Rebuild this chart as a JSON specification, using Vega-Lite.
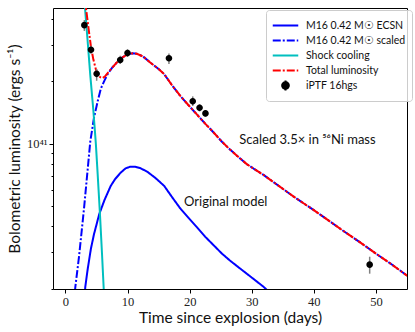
{
  "$schema": "https://vega.github.io/schema/vega-lite/v6.json",
  "width": 354,
  "height": 281,
  "autosize": "none",
  "padding": {"left": 53, "top": 8, "right": 8, "bottom": 43},
  "config": {
    "view": {"stroke": "#000000", "strokeWidth": 1},
    "font": "Lato",
    "axis": {"domain": false, "grid": false, "tickColor": "#000000", "labelColor": "#222222", "labelFont": "Liberation Serif", "labelFontSize": 12.5, "titleFont": "Lato", "titleFontSize": 15.5, "titleFontWeight": "normal", "titleColor": "#111111"},
    "legend": {"title": null, "orient": "none", "legendX": 213, "legendY": 2, "symbolSize": 289, "symbolStrokeWidth": 2, "symbolOpacity": 1, "symbolOffset": 4,
               "labelFont": "Lato", "labelFontSize": 10.5, "labelColor": "#111111", "fillColor": "rgba(255,255,255,0.8)", "strokeColor": "#cccccc",
               "cornerRadius": 3, "padding": 6, "labelOffset": 11, "rowPadding": 0}
  },
  "datasets": {
    "curves": [
      {"series": "M16 0.42 M☉ ECSN", "t": 2.9, "L": 0.158e41},
      {"series": "M16 0.42 M☉ ECSN", "t": 3.2, "L": 0.205e41},
      {"series": "M16 0.42 M☉ ECSN", "t": 3.6, "L": 0.251e41},
      {"series": "M16 0.42 M☉ ECSN", "t": 4.1, "L": 0.312e41},
      {"series": "M16 0.42 M☉ ECSN", "t": 4.6, "L": 0.367e41},
      {"series": "M16 0.42 M☉ ECSN", "t": 5.45, "L": 0.459e41},
      {"series": "M16 0.42 M☉ ECSN", "t": 6.3, "L": 0.537e41},
      {"series": "M16 0.42 M☉ ECSN", "t": 7.3, "L": 0.627e41},
      {"series": "M16 0.42 M☉ ECSN", "t": 8.0, "L": 0.676e41},
      {"series": "M16 0.42 M☉ ECSN", "t": 8.9, "L": 0.726e41},
      {"series": "M16 0.42 M☉ ECSN", "t": 9.7, "L": 0.762e41},
      {"series": "M16 0.42 M☉ ECSN", "t": 10.5, "L": 0.776e41},
      {"series": "M16 0.42 M☉ ECSN", "t": 11.2, "L": 0.776e41},
      {"series": "M16 0.42 M☉ ECSN", "t": 12.1, "L": 0.762e41},
      {"series": "M16 0.42 M☉ ECSN", "t": 13.2, "L": 0.733e41},
      {"series": "M16 0.42 M☉ ECSN", "t": 14.5, "L": 0.684e41},
      {"series": "M16 0.42 M☉ ECSN", "t": 15.9, "L": 0.627e41},
      {"series": "M16 0.42 M☉ ECSN", "t": 17.2, "L": 0.552e41},
      {"series": "M16 0.42 M☉ ECSN", "t": 18.5, "L": 0.488e41},
      {"series": "M16 0.42 M☉ ECSN", "t": 19.9, "L": 0.437e41},
      {"series": "M16 0.42 M☉ ECSN", "t": 21.2, "L": 0.396e41},
      {"series": "M16 0.42 M☉ ECSN", "t": 22.5, "L": 0.357e41},
      {"series": "M16 0.42 M☉ ECSN", "t": 23.9, "L": 0.324e41},
      {"series": "M16 0.42 M☉ ECSN", "t": 25.2, "L": 0.296e41},
      {"series": "M16 0.42 M☉ ECSN", "t": 26.5, "L": 0.274e41},
      {"series": "M16 0.42 M☉ ECSN", "t": 27.9, "L": 0.254e41},
      {"series": "M16 0.42 M☉ ECSN", "t": 29.2, "L": 0.237e41},
      {"series": "M16 0.42 M☉ ECSN", "t": 30.5, "L": 0.221e41},
      {"series": "M16 0.42 M☉ ECSN", "t": 31.9, "L": 0.205e41},
      {"series": "M16 0.42 M☉ ECSN", "t": 32.5, "L": 0.197e41},

      {"series": "M16 0.42 M☉ scaled", "t": 1.3, "L": 0.166e41},
      {"series": "M16 0.42 M☉ scaled", "t": 1.6, "L": 0.205e41},
      {"series": "M16 0.42 M☉ scaled", "t": 2.2, "L": 0.288e41},
      {"series": "M16 0.42 M☉ scaled", "t": 3.0, "L": 0.490e41},
      {"series": "M16 0.42 M☉ scaled", "t": 3.5, "L": 0.708e41},
      {"series": "M16 0.42 M☉ scaled", "t": 4.0, "L": 1.023e41},
      {"series": "M16 0.42 M☉ scaled", "t": 4.6, "L": 1.334e41},
      {"series": "M16 0.42 M☉ scaled", "t": 5.2, "L": 1.603e41},
      {"series": "M16 0.42 M☉ scaled", "t": 5.7, "L": 1.841e41},
      {"series": "M16 0.42 M☉ scaled", "t": 6.3, "L": 2.018e41},
      {"series": "M16 0.42 M☉ scaled", "t": 6.8, "L": 2.163e41},
      {"series": "M16 0.42 M☉ scaled", "t": 7.5, "L": 2.317e41},
      {"series": "M16 0.42 M☉ scaled", "t": 8.3, "L": 2.466e41},
      {"series": "M16 0.42 M☉ scaled", "t": 9.0, "L": 2.582e41},
      {"series": "M16 0.42 M☉ scaled", "t": 10.0, "L": 2.692e41},
      {"series": "M16 0.42 M☉ scaled", "t": 10.8, "L": 2.723e41},
      {"series": "M16 0.42 M☉ scaled", "t": 11.5, "L": 2.710e41},
      {"series": "M16 0.42 M☉ scaled", "t": 12.5, "L": 2.630e41},
      {"series": "M16 0.42 M☉ scaled", "t": 13.7, "L": 2.455e41},
      {"series": "M16 0.42 M☉ scaled", "t": 15.0, "L": 2.291e41},
      {"series": "M16 0.42 M☉ scaled", "t": 15.9, "L": 2.163e41},
      {"series": "M16 0.42 M☉ scaled", "t": 17.2, "L": 1.905e41},
      {"series": "M16 0.42 M☉ scaled", "t": 18.5, "L": 1.698e41},
      {"series": "M16 0.42 M☉ scaled", "t": 19.9, "L": 1.524e41},
      {"series": "M16 0.42 M☉ scaled", "t": 21.2, "L": 1.380e41},
      {"series": "M16 0.42 M☉ scaled", "t": 22.5, "L": 1.250e41},
      {"series": "M16 0.42 M☉ scaled", "t": 23.9, "L": 1.130e41},
      {"series": "M16 0.42 M☉ scaled", "t": 25.2, "L": 1.023e41},
      {"series": "M16 0.42 M☉ scaled", "t": 26.5, "L": 0.938e41},
      {"series": "M16 0.42 M☉ scaled", "t": 27.9, "L": 0.861e41},
      {"series": "M16 0.42 M☉ scaled", "t": 29.2, "L": 0.798e41},
      {"series": "M16 0.42 M☉ scaled", "t": 30.5, "L": 0.752e41},
      {"series": "M16 0.42 M☉ scaled", "t": 31.9, "L": 0.708e41},
      {"series": "M16 0.42 M☉ scaled", "t": 33.0, "L": 0.670e41},
      {"series": "M16 0.42 M☉ scaled", "t": 36.7, "L": 0.558e41},
      {"series": "M16 0.42 M☉ scaled", "t": 40.0, "L": 0.479e41},
      {"series": "M16 0.42 M☉ scaled", "t": 42.0, "L": 0.435e41},
      {"series": "M16 0.42 M☉ scaled", "t": 45.0, "L": 0.376e41},
      {"series": "M16 0.42 M☉ scaled", "t": 47.4, "L": 0.336e41},
      {"series": "M16 0.42 M☉ scaled", "t": 50.0, "L": 0.296e41},
      {"series": "M16 0.42 M☉ scaled", "t": 52.5, "L": 0.263e41},
      {"series": "M16 0.42 M☉ scaled", "t": 55.0, "L": 0.232e41},
      {"series": "M16 0.42 M☉ scaled", "t": 56.0, "L": 0.221e41},

      {"series": "Shock cooling", "t": 2.9, "L": 5.623e41},
      {"series": "Shock cooling", "t": 3.16, "L": 4.477e41},
      {"series": "Shock cooling", "t": 3.6, "L": 3.055e41},
      {"series": "Shock cooling", "t": 4.0, "L": 2.143e41},
      {"series": "Shock cooling", "t": 4.5, "L": 1.445e41},
      {"series": "Shock cooling", "t": 4.9, "L": 1.0e41},
      {"series": "Shock cooling", "t": 5.2, "L": 0.708e41},
      {"series": "Shock cooling", "t": 5.56, "L": 0.459e41},
      {"series": "Shock cooling", "t": 5.9, "L": 0.292e41},
      {"series": "Shock cooling", "t": 6.15, "L": 0.205e41},
      {"series": "Shock cooling", "t": 6.4, "L": 0.141e41},

      {"series": "Total luminosity", "t": 3.1, "L": 5.01e41},
      {"series": "Total luminosity", "t": 3.32, "L": 4.467e41},
      {"series": "Total luminosity", "t": 3.7, "L": 3.631e41},
      {"series": "Total luminosity", "t": 4.11, "L": 2.931e41},
      {"series": "Total luminosity", "t": 4.5, "L": 2.541e41},
      {"series": "Total luminosity", "t": 4.92, "L": 2.270e41},
      {"series": "Total luminosity", "t": 5.3, "L": 2.138e41},
      {"series": "Total luminosity", "t": 5.6, "L": 2.089e41},
      {"series": "Total luminosity", "t": 6.0, "L": 2.070e41},
      {"series": "Total luminosity", "t": 6.4, "L": 2.113e41},
      {"series": "Total luminosity", "t": 6.8, "L": 2.188e41},
      {"series": "Total luminosity", "t": 7.5, "L": 2.317e41},
      {"series": "Total luminosity", "t": 8.3, "L": 2.466e41},
      {"series": "Total luminosity", "t": 9.0, "L": 2.582e41},
      {"series": "Total luminosity", "t": 10.0, "L": 2.692e41},
      {"series": "Total luminosity", "t": 10.8, "L": 2.723e41},
      {"series": "Total luminosity", "t": 11.5, "L": 2.710e41},
      {"series": "Total luminosity", "t": 12.5, "L": 2.630e41},
      {"series": "Total luminosity", "t": 13.7, "L": 2.455e41},
      {"series": "Total luminosity", "t": 15.0, "L": 2.291e41},
      {"series": "Total luminosity", "t": 15.9, "L": 2.163e41},
      {"series": "Total luminosity", "t": 17.2, "L": 1.905e41},
      {"series": "Total luminosity", "t": 18.5, "L": 1.698e41},
      {"series": "Total luminosity", "t": 19.9, "L": 1.524e41},
      {"series": "Total luminosity", "t": 21.2, "L": 1.380e41},
      {"series": "Total luminosity", "t": 22.5, "L": 1.250e41},
      {"series": "Total luminosity", "t": 23.9, "L": 1.130e41},
      {"series": "Total luminosity", "t": 25.2, "L": 1.023e41},
      {"series": "Total luminosity", "t": 26.5, "L": 0.938e41},
      {"series": "Total luminosity", "t": 27.9, "L": 0.861e41},
      {"series": "Total luminosity", "t": 29.2, "L": 0.798e41},
      {"series": "Total luminosity", "t": 30.5, "L": 0.752e41},
      {"series": "Total luminosity", "t": 31.9, "L": 0.708e41},
      {"series": "Total luminosity", "t": 33.0, "L": 0.670e41},
      {"series": "Total luminosity", "t": 36.7, "L": 0.558e41},
      {"series": "Total luminosity", "t": 40.0, "L": 0.479e41},
      {"series": "Total luminosity", "t": 42.0, "L": 0.435e41},
      {"series": "Total luminosity", "t": 45.0, "L": 0.376e41},
      {"series": "Total luminosity", "t": 47.4, "L": 0.336e41},
      {"series": "Total luminosity", "t": 50.0, "L": 0.296e41},
      {"series": "Total luminosity", "t": 52.5, "L": 0.263e41},
      {"series": "Total luminosity", "t": 55.0, "L": 0.232e41},
      {"series": "Total luminosity", "t": 56.0, "L": 0.221e41}
    ],
    "obs": [
      {"series": "iPTF 16hgs", "t": 3.05, "L": 3.72e41, "lo": 3.49e41, "hi": 3.94e41},
      {"series": "iPTF 16hgs", "t": 4.12, "L": 2.83e41, "lo": 2.71e41, "hi": 2.96e41},
      {"series": "iPTF 16hgs", "t": 5.03, "L": 2.17e41, "lo": 2.01e41, "hi": 2.29e41},
      {"series": "iPTF 16hgs", "t": 8.82, "L": 2.53e41, "lo": 2.42e41, "hi": 2.65e41},
      {"series": "iPTF 16hgs", "t": 10.0, "L": 2.73e41, "lo": 2.62e41, "hi": 2.85e41},
      {"series": "iPTF 16hgs", "t": 16.67, "L": 2.58e41, "lo": 2.42e41, "hi": 2.72e41},
      {"series": "iPTF 16hgs", "t": 20.5, "L": 1.60e41, "lo": 1.52e41, "hi": 1.69e41},
      {"series": "iPTF 16hgs", "t": 21.6, "L": 1.49e41, "lo": 1.43e41, "hi": 1.55e41},
      {"series": "iPTF 16hgs", "t": 22.55, "L": 1.40e41, "lo": 1.35e41, "hi": 1.45e41},
      {"series": "iPTF 16hgs", "t": 48.99, "L": 0.262e41, "lo": 0.237e41, "hi": 0.286e41}
    ],
    "notes": [
      {"t": 28.0, "L": 1.0e41, "text": "Scaled 3.5× in ⁵⁶Ni mass"},
      {"t": 19.1, "L": 0.5e41, "text": "Original model"}
    ]
  },
  "layer": [
    {
      "data": {"name": "curves"},
      "mark": {"type": "line", "strokeWidth": 2, "clip": true},
      "encoding": {
        "x": {"field": "t", "type": "quantitative", "scale": {"domain": [-2, 55], "nice": false, "zero": false},
              "axis": {"title": "Time since explosion (days)", "values": [0, 10, 20, 30, 40, 50], "tickSize": 4, "labelPadding": 2, "titlePadding": 3}},
        "y": {"field": "L", "type": "quantitative", "scale": {"type": "log", "domain": [2e40, 4.5e41], "nice": false},
              "axis": {"title": "Bolometric luminosity (ergs s⁻¹)", "values": [2e40, 3e40, 4e40, 5e40, 6e40, 7e40, 8e40, 9e40, 1e41, 2e41, 3e41, 4e41],
                       "labelExpr": "datum.value == 1e41 ? '10⁴¹' : ''",
                       "tickSize": {"condition": {"test": "datum.value == 1e41", "value": 4}, "value": 2},
                       "labelPadding": 2, "titlePadding": 4}},
        "color": {"field": "series", "type": "nominal",
                  "scale": {"domain": ["M16 0.42 M☉ ECSN", "M16 0.42 M☉ scaled", "Shock cooling", "Total luminosity", "iPTF 16hgs"],
                            "range": ["#0000ff", "#0000ff", "#00bfbf", "#ff0000", "#000000"]},
                  "legend": {"encode": {"symbols": {"update": {"stroke": {"scale": "color", "field": "value"}}}}}},
        "strokeDash": {"field": "series", "type": "nominal",
                       "scale": {"domain": ["M16 0.42 M☉ ECSN", "M16 0.42 M☉ scaled", "Shock cooling", "Total luminosity", "iPTF 16hgs"],
                                 "range": [[1, 0], [8, 2, 2, 2], [1, 0], [8, 2, 2, 2], [1, 0]]},
                       "legend": {"encode": {"symbols": {"update": {"stroke": {"scale": "color", "field": "value"}}}}}}
      }
    },
    {
      "data": {"name": "obs"},
      "mark": {"type": "rule", "color": "#808080", "strokeWidth": 1.5},
      "encoding": {
        "x": {"field": "t", "type": "quantitative"},
        "y": {"field": "lo", "type": "quantitative"},
        "y2": {"field": "hi"}
      }
    },
    {
      "data": {"name": "obs"},
      "mark": {"type": "point", "filled": true, "size": 289, "opacity": 1},
      "encoding": {
        "x": {"field": "t", "type": "quantitative"},
        "y": {"field": "L", "type": "quantitative"},
        "color": {"field": "series", "type": "nominal",
                  "scale": {"domain": ["M16 0.42 M☉ ECSN", "M16 0.42 M☉ scaled", "Shock cooling", "Total luminosity", "iPTF 16hgs"],
                            "range": ["#0000ff", "#0000ff", "#00bfbf", "#ff0000", "#000000"]},
                  "legend": {"encode": {"symbols": {"update": {"stroke": {"scale": "color", "field": "value"}}}}}},
        "shape": {"field": "series", "type": "nominal",
                  "scale": {"domain": ["M16 0.42 M☉ ECSN", "M16 0.42 M☉ scaled", "Shock cooling", "Total luminosity", "iPTF 16hgs"],
                            "range": ["M-1.5,0H1.5", "M-1.5,0H1.5", "M-1.5,0H1.5", "M-1.5,0H1.5", "M0,-0.6V0.6M0.39,0A0.39,0.39 0 1,1 -0.39,0A0.39,0.39 0 1,1 0.39,0Z"]},
                  "legend": {"encode": {"symbols": {"update": {"stroke": {"scale": "color", "field": "value"}}}}}}
      }
    },
    {
      "data": {"name": "notes"},
      "mark": {"type": "text", "align": "left", "baseline": "alphabetic", "fontSize": 13, "font": "Lato", "color": "#111111"},
      "encoding": {
        "x": {"field": "t", "type": "quantitative"},
        "y": {"field": "L", "type": "quantitative"},
        "text": {"field": "text"}
      }
    }
  ]
}
